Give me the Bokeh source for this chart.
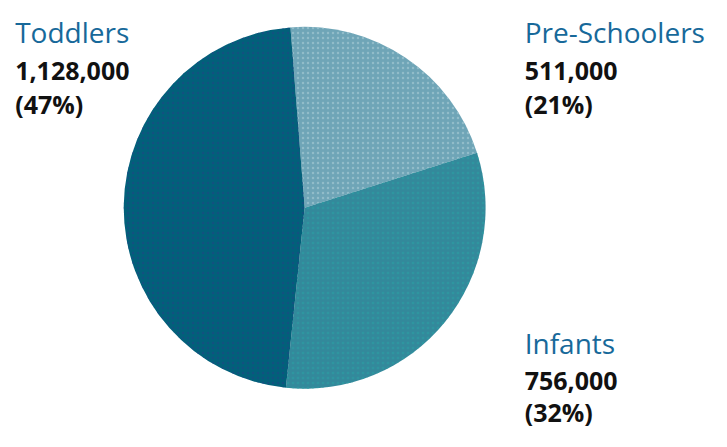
import math
from bokeh.plotting import figure
from bokeh.models import Range1d, ColumnDataSource
from bokeh.core.properties import value
from bokeh.embed import file_html
from bokeh.resources import INLINE

categories = ["Pre-Schoolers", "Infants", "Toddlers"]
counts = [511000, 756000, 1128000]
count_labels = ["511,000", "756,000", "1,128,000"]
pct_labels = ["(21%)", "(32%)", "(47%)"]
colors = ["#6fa5b7", "#33899b", "#02607a"]
hatch_colors = ["#a6cad4", "#2a9ea2", "#1d4684"]

# reference-pixel coordinate space drawn into a 711x431 figure
RW, RH = 727, 447
W, H = 711, 431
p = figure(width=W, height=H, output_backend="svg", toolbar_location=None,
           x_range=Range1d(0, RW), y_range=Range1d(0, RH), min_border=0)
p.axis.visible = False
p.grid.visible = False
p.outline_line_color = None
p.background_fill_color = "white"

cx, cy, r = 311, RH - 215, 185
total = sum(counts)
start0 = math.radians(94.5)
starts, ends = [], []
acc = 0.0
for c in counts:
    s = start0 - acc / total * 2 * math.pi
    acc += c
    e = start0 - acc / total * 2 * math.pi
    starts.append(s)
    ends.append(e)

src = ColumnDataSource(dict(x=[cx] * 3, y=[cy] * 3, start=starts, end=ends,
                            color=colors, hcolor=hatch_colors, cat=categories))
p.wedge(x="x", y="y", radius=r, radius_units="data", start_angle="start", end_angle="end",
        direction="clock", fill_color="color", line_color=None, source=src,
        hatch_pattern="dot", hatch_color="hcolor", hatch_scale=5, hatch_alpha=0.6)

label_pos = {"Toddlers": (15, 33), "Pre-Schoolers": (536, 33), "Infants": (536, 355)}
val_base = {"Toddlers": (73, 107), "Pre-Schoolers": (73, 107), "Infants": (395, 427)}
lx, ly, lt = [], [], []
vx, vy, vt = [], [], []
for i, cat in enumerate(categories):
    px, py = label_pos[cat]
    lx.append(px); ly.append(RH - py); lt.append(cat)
    b1, b2 = val_base[cat]
    vx += [px, px]
    vy += [RH - b1, RH - b2]
    vt += [count_labels[i], pct_labels[i]]

p.text(x=lx, y=ly, text=lt, text_font=value("Open Sans"), text_font_size="28px",
       text_color="#17699a", text_baseline="alphabetic", text_align="left")
p.text(x=vx, y=vy, text=vt, text_font=value("Open Sans"), text_font_size="25px",
       text_font_style="bold", text_color="#111111", text_baseline="alphabetic",
       text_align="left")

open("out.html", "w").write(file_html(p, INLINE))
